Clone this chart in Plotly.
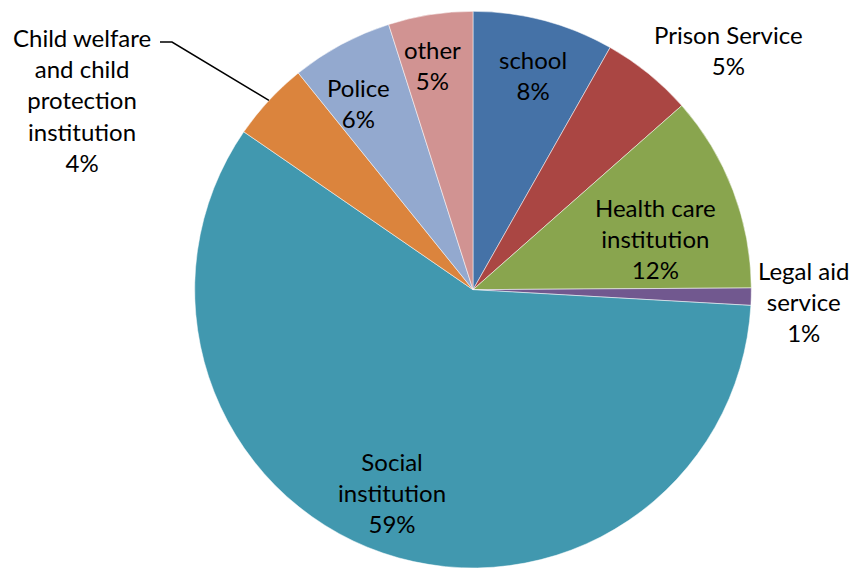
import math
import plotly.graph_objects as go

categories = ["school", "Prison Service", "Health care institution", "Legal aid service",
              "Social institution", "Child welfare and child protection institution", "Police", "other"]
values = [8.2, 5.3, 11.4, 1.0, 58.7, 4.6, 5.9, 4.9]
pct_labels = ["8%", "5%", "12%", "1%", "59%", "4%", "6%", "5%"]
label_lines = [
    ["school"],
    ["Prison Service"],
    ["Health care", "institution"],
    ["Legal aid", "service"],
    ["Social", "institution"],
    ["Child welfare", "and child", "protection", "institution"],
    ["Police"],
    ["other"],
]
colors = ["#4572A7", "#AA4643", "#89A54E", "#71588F", "#4198AF", "#DB843D", "#93A9CF", "#D19392"]

W, H = 852, 568
# pie geometry (pixels)
dom_y = [0.0, 0.98]
side = (dom_y[1] - dom_y[0]) * H
cx = 473.0
cy = H - (dom_y[0] + dom_y[1]) / 2 * H
R = side / 2
dom_x = [(cx - R) / W, (cx + R) / W]

fig = go.Figure(go.Pie(
    labels=categories, values=values, sort=False, direction="clockwise", rotation=0,
    marker=dict(colors=colors, line=dict(color="rgba(255,255,255,0.5)", width=1)),
    textinfo="none", hoverinfo="label+percent", showlegend=False,
    domain=dict(x=dom_x, y=dom_y),
))

# label centre positions in pixels (layout of the text labels)
label_pos = [(533, 75), (728, 50), (655, 238), (803, 301), (392, 492), (82, 100), (358, 103), (433, 65)]

annotations = []
for lines, pct, (px, py) in zip(label_lines, pct_labels, label_pos):
    txt = "<br>".join(lines + [pct])
    annotations.append(dict(
        x=px / W, y=1 - py / H, xref="paper", yref="paper", text=txt, showarrow=False,
        font=dict(family="Lato, Open Sans, sans-serif", size=24, color="#000000"),
        align="center", xanchor="center", yanchor="middle",
    ))

# leader line for the child welfare slice, ending at the slice's outer edge
total = sum(values)
cum = sum(values[:5])
mid = (cum + values[5] / 2) / total * 2 * math.pi
ex = cx + R * math.sin(mid)
ey = cy - R * math.cos(mid)
pts = [(160, 42), (172, 42), (ex, ey)]
path = "M " + " L ".join(f"{x / W},{1 - y / H}" for x, y in pts)
shapes = [dict(type="path", xref="paper", yref="paper", path=path,
               line=dict(color="#000000", width=1.5))]

fig.update_layout(
    width=W, height=H, margin=dict(l=0, r=0, t=0, b=0),
    paper_bgcolor="white", plot_bgcolor="white",
    annotations=annotations, shapes=shapes,
)
fig.write_html("out.html", config={"displayModeBar": False},
               post_script="document.body.style.margin='0';document.body.style.overflow='hidden';")
